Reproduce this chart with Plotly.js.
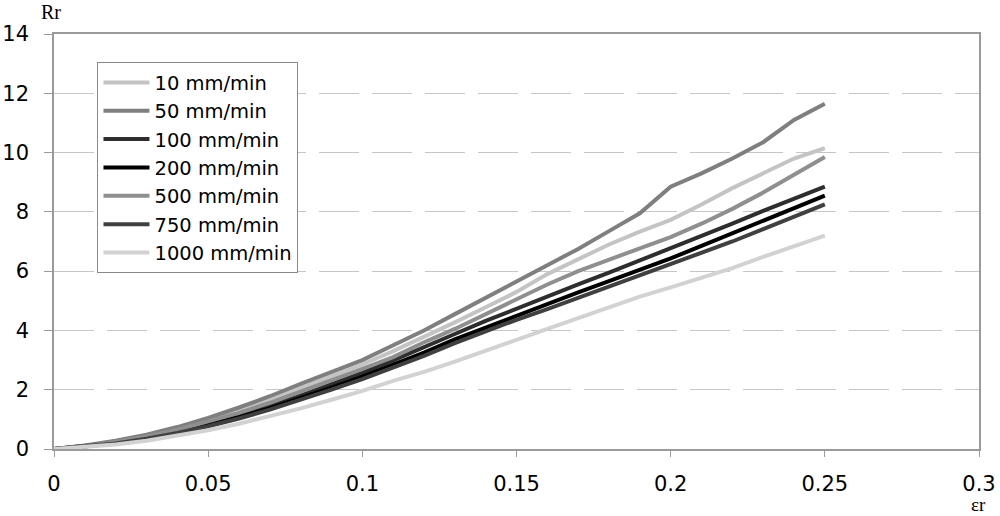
<!DOCTYPE html>
<html>
<head>
<meta charset="utf-8">
<script src="https://cdn.plot.ly/plotly-3.0.1.min.js"></script>
<style>
  body { margin: 0; background: #fff; }
  #chart { width: 1000px; height: 516px; }
</style>
</head>
<body>
<div id="chart"></div>
<script>
// strain values (εr) shared by every curve
const strain = [0, 0.01, 0.02, 0.03, 0.04, 0.05, 0.06, 0.07, 0.08, 0.09, 0.10, 0.11, 0.12,
  0.13, 0.14, 0.15, 0.16, 0.17, 0.18, 0.19, 0.20, 0.21, 0.22, 0.23, 0.24, 0.25];

// Rr for each test speed
const r10 = [0, 0.11, 0.26, 0.45, 0.69, 0.98, 1.30, 1.66, 2.05, 2.45, 2.85, 3.30, 3.78,
  4.27, 4.78, 5.30, 5.90, 6.40, 6.90, 7.33, 7.73, 8.25, 8.80, 9.30, 9.80, 10.15];
const r50 = [0, 0.12, 0.28, 0.48, 0.74, 1.05, 1.40, 1.78, 2.20, 2.60, 3.00, 3.50, 4.00,
  4.55, 5.10, 5.65, 6.20, 6.75, 7.35, 7.95, 8.85, 9.30, 9.80, 10.35, 11.10, 11.65];
const r100 = [0, 0.09, 0.21, 0.38, 0.59, 0.84, 1.13, 1.45, 1.80, 2.18, 2.57, 2.99, 3.42,
  3.88, 4.32, 4.74, 5.14, 5.55, 5.95, 6.36, 6.76, 7.18, 7.60, 8.03, 8.45, 8.85];
const r200 = [0, 0.08, 0.20, 0.36, 0.56, 0.80, 1.07, 1.38, 1.71, 2.07, 2.44, 2.84, 3.25,
  3.70, 4.10, 4.50, 4.90, 5.28, 5.66, 6.04, 6.43, 6.85, 7.28, 7.70, 8.12, 8.55];
const r500 = [0, 0.10, 0.24, 0.42, 0.65, 0.92, 1.22, 1.56, 1.93, 2.30, 2.70, 3.10, 3.60,
  4.05, 4.55, 5.05, 5.55, 6.00, 6.40, 6.77, 7.15, 7.60, 8.10, 8.65, 9.25, 9.85];
const r750 = [0, 0.08, 0.19, 0.35, 0.54, 0.77, 1.03, 1.33, 1.65, 2.00, 2.36, 2.74, 3.14,
  3.57, 3.97, 4.36, 4.72, 5.10, 5.47, 5.85, 6.22, 6.60, 7.00, 7.42, 7.83, 8.25];
const r1000 = [0, 0.06, 0.15, 0.28, 0.44, 0.63, 0.85, 1.10, 1.37, 1.66, 1.96, 2.30, 2.60,
  2.95, 3.30, 3.68, 4.05, 4.42, 4.78, 5.14, 5.45, 5.78, 6.10, 6.48, 6.85, 7.20];

const names = ["10 mm/min", "50 mm/min", "100 mm/min", "200 mm/min", "500 mm/min", "750 mm/min", "1000 mm/min"];
const series = [r10, r50, r100, r200, r500, r750, r1000];
const colors = ["#c4c4c4", "#7f7f7f", "#2e2e2e", "#000000", "#8f8f8f", "#404040", "#d2d2d2"];

let data = [];
for (let i = 0; i < series.length; i++) {
  data.push({
    x: strain,
    y: series[i],
    name: names[i],
    type: "scatter",
    mode: "lines",
    line: {color: colors[i], width: 4}
  });
}

let gridDash = "40px,13px";
let layout = {
  width: 1000,
  height: 516,
  margin: {l: 54, r: 21, t: 34, b: 67},
  paper_bgcolor: "#ffffff",
  plot_bgcolor: "#ffffff",
  font: {family: "DejaVu Sans, Arial, sans-serif", size: 21, color: "#000"},
  showlegend: true,
  legend: {
    x: 0.047, y: 0.932, xanchor: "left", yanchor: "top",
    bgcolor: "#ffffff", bordercolor: "#8a8a8a", borderwidth: 1,
    font: {size: 19.5}, itemwidth: 46
  },
  xaxis: {
    range: [0, 0.3], dtick: 0.05, tick0: 0,
    showgrid: false, zeroline: false,
    showline: true, linecolor: "#9a9a9a", linewidth: 1.5, mirror: true,
    ticks: "outside", ticklen: 6, tickcolor: "#9a9a9a",
    ticklabelstandoff: 9
  },
  yaxis: {
    range: [0, 14], dtick: 2, tick0: 0,
    showgrid: true, gridcolor: "#c6c6c6", gridwidth: 1, griddash: gridDash,
    zeroline: false,
    showline: true, linecolor: "#9a9a9a", linewidth: 1.5, mirror: true,
    ticks: "outside", ticklen: 8, tickcolor: "#9a9a9a",
    ticklabelstandoff: 11
  },
  annotations: [
    {text: "Rr", xref: "paper", yref: "paper", x: -0.016, y: 1, yshift: 22,
     xanchor: "left", yanchor: "middle", showarrow: false,
     font: {family: "Liberation Serif, Times New Roman, serif", size: 20}},
    {text: "εr", xref: "paper", yref: "paper", x: 1.01, y: 0, yshift: -55,
     xanchor: "right", yanchor: "middle", showarrow: false,
     font: {family: "Liberation Serif, Times New Roman, serif", size: 19}}
  ]
};

Plotly.newPlot("chart", data, layout, {displayModeBar: false});
</script>
</body>
</html>
